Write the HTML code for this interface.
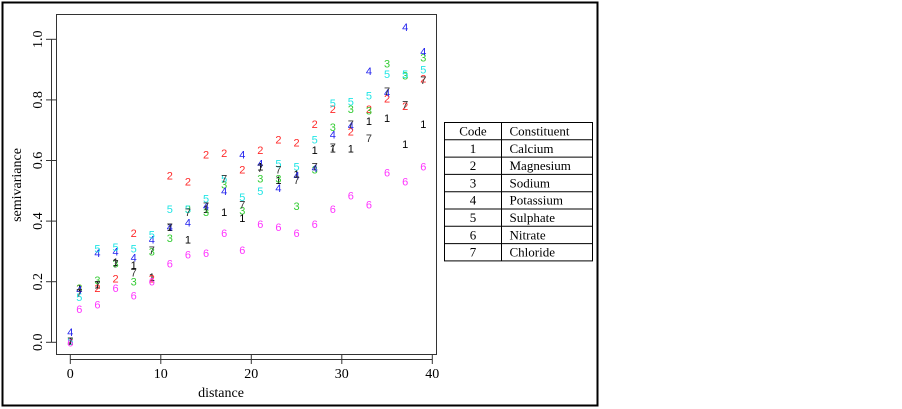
<!DOCTYPE html>
<html><head><meta charset="utf-8"><style>
body{margin:0;background:#fff;}
svg{display:block;font-family:"Liberation Serif",serif;}
</style></head><body>
<svg id="chart" width="902" height="409">
<rect x="2.5" y="2.5" width="595" height="403" fill="none" stroke="#000" stroke-width="2"/>
<rect x="56.5" y="14.5" width="380" height="340" fill="none" stroke="#333" stroke-width="1"/>
<g id="axes"></g>
<g id="points" font-family="Liberation Sans, sans-serif" font-size="11" text-anchor="middle"></g>
<text x="221" y="397" font-size="14" text-anchor="middle">distance</text>
<text transform="translate(21,185) rotate(-90)" font-size="14" text-anchor="middle">semivariance</text>
<g id="legend" font-size="13"></g>
</svg>
<script>
const distances=[0,1,3,5,7,9,11,13,15,17,19,21,23,25,27,29,31,33,35,37,39];
const calcium  =[0.005,0.18,0.19,0.265,0.255,0.215,0.38,0.34,0.44,0.43,0.41,0.58,0.535,0.555,0.635,0.64,0.64,0.73,0.74,0.655,0.72];
const magnesium=[0.005,0.18,0.18,0.21,0.36,0.21,0.55,0.53,0.62,0.625,0.57,0.635,0.67,0.66,0.72,0.77,0.695,0.77,0.805,0.78,0.87];
const sodium   =[0.005,0.18,0.205,0.26,0.20,0.30,0.345,0.44,0.43,0.52,0.435,0.54,0.54,0.45,0.57,0.71,0.77,0.765,0.92,0.88,0.94];
const potassium=[0.034,0.175,0.295,0.30,0.28,0.34,0.38,0.395,0.45,0.50,0.62,0.59,0.51,0.55,0.575,0.685,0.715,0.895,0.825,1.04,0.96];
const sulphate =[0.005,0.15,0.31,0.315,0.31,0.355,0.44,0.44,0.475,0.54,0.48,0.50,0.59,0.58,0.67,0.79,0.795,0.815,0.885,0.885,0.90];
const nitrate  =[0.0,0.11,0.125,0.18,0.155,0.20,0.26,0.29,0.295,0.36,0.305,0.39,0.38,0.36,0.39,0.44,0.485,0.455,0.56,0.53,0.58];
const chloride =[0.005,0.165,0.19,0.26,0.23,0.305,0.38,0.43,0.45,0.54,0.455,0.575,0.57,0.535,0.58,0.645,0.72,0.675,0.83,0.785,0.865];
const xTicks=[0,10,20,30,40];
const yTicks=[0.0,0.2,0.4,0.6,0.8,1.0];
const codes=["1","2","3","4","5","6","7"];
const names=["Calcium","Magnesium","Sodium","Potassium","Sulphate","Nitrate","Chloride"];
const NS="http://www.w3.org/2000/svg";
function xs(d){return 70.3+d*9.05;}
function ys(v){return 342.3-v*303;}
function mk(tag,attrs,parent,text){const e=document.createElementNS(NS,tag);for(const k in attrs)e.setAttribute(k,attrs[k]);if(text!==undefined)e.textContent=text;parent.appendChild(e);return e;}
const axes=document.getElementById('axes');
let l=mk('line',{x1:xs(0),x2:xs(40),y1:359.5,y2:359.5,stroke:'#333'},axes);


xTicks.forEach(t=>{
  const tk=mk('line',{x1:xs(t),x2:xs(t),y1:355,y2:364,stroke:'#333'},axes);
  
  
  const tl=mk('text',{x:xs(t),y:378,'font-size':14,'text-anchor':'middle'},axes,String(t));
  
  
});
l=mk('line',{x1:51.5,x2:51.5,y1:ys(0),y2:ys(1),stroke:'#333'},axes);


yTicks.forEach(t=>{
  const tk=mk('line',{x1:46,x2:56,y1:ys(t),y2:ys(t),stroke:'#333'},axes);
  
  
  const tl=mk('text',{transform:`translate(42,${ys(t)}) rotate(-90)`,'font-size':14,'text-anchor':'middle'},axes,t.toFixed(1));
  
  
});
const series=[calcium,magnesium,sodium,potassium,sulphate,nitrate,chloride];
const colors=['#000','#ff2a2a','#33cc33','#2222ee','#22e5e5','#ff33ff','#333'];
const pts=document.getElementById('points');
series.forEach((s,i)=>{
  s.forEach((v,j)=>{
    const t=mk('text',{x:xs(distances[j]),y:ys(v)+4,fill:colors[i]},pts,codes[i]);
    
    
  });
});
const lg=document.getElementById('legend');
const L=444.5,R=592.5,M=501.5,T=122.5,rh=17.3;
const box=mk('rect',{x:L,y:T,width:R-L,height:rh*8,fill:'#fff',stroke:'#000'},lg);


mk('line',{x1:M,x2:M,y1:T,y2:T+rh*8,stroke:'#000'},lg);
for(let r=1;r<8;r++)mk('line',{x1:L,x2:R,y1:T+rh*r,y2:T+rh*r,stroke:'#000'},lg);
const rows=[["Code","Constituent"]].concat(codes.map((c,i)=>[c,names[i]]));
rows.forEach((r,i)=>{
  const a=mk('text',{x:(L+M)/2,y:T+rh*i+13,'text-anchor':'middle'},lg,r[0]);
  
  
  const b=mk('text',{x:M+8,y:T+rh*i+13},lg,r[1]);
  
  
});
</script>
</body></html>
